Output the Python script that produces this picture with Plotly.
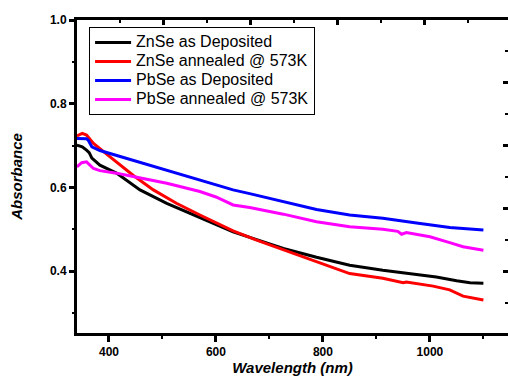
import plotly.graph_objects as go

# ---- data ----
zn_dep_wl = [340, 350, 358, 363, 368, 383, 414, 458, 508, 570, 632, 669, 726, 788, 850, 912, 975, 1012, 1050, 1075, 1100]
zn_dep_abs = [0.701, 0.697, 0.689, 0.683, 0.670, 0.653, 0.634, 0.594, 0.562, 0.528, 0.494, 0.478, 0.454, 0.433, 0.414, 0.402, 0.393, 0.386, 0.377, 0.372, 0.371]

zn_ann_wl = [340, 350, 358, 371, 402, 445, 483, 526, 570, 600, 632, 676, 781, 850, 912, 945, 950, 956, 1006, 1037, 1062, 1100]
zn_ann_abs = [0.723, 0.729, 0.725, 0.705, 0.673, 0.629, 0.594, 0.562, 0.534, 0.515, 0.496, 0.474, 0.426, 0.394, 0.383, 0.375, 0.372, 0.374, 0.364, 0.355, 0.340, 0.331]

pb_dep_wl = [340, 358, 361, 368, 383, 445, 508, 570, 632, 663, 726, 788, 850, 912, 975, 1037, 1100]
pb_dep_abs = [0.717, 0.716, 0.713, 0.697, 0.688, 0.665, 0.641, 0.618, 0.594, 0.585, 0.566, 0.547, 0.534, 0.526, 0.515, 0.504, 0.498]

pb_ann_wl = [340, 349, 358, 363, 371, 383, 414, 445, 508, 570, 600, 632, 663, 726, 788, 850, 912, 940, 947, 956, 1000, 1037, 1062, 1100]
pb_ann_abs = [0.649, 0.659, 0.661, 0.655, 0.645, 0.640, 0.634, 0.626, 0.610, 0.590, 0.577, 0.558, 0.552, 0.536, 0.518, 0.506, 0.500, 0.495, 0.488, 0.492, 0.482, 0.468, 0.458, 0.450]

series_names = ["ZnSe as Deposited", "ZnSe annealed @ 573K", "PbSe as Deposited", "PbSe annealed @ 573K"]
series_colors = ["#000000", "#ff0000", "#0000ff", "#ff00ff"]
series_x = [zn_dep_wl, zn_ann_wl, pb_dep_wl, pb_ann_wl]
series_y = [zn_dep_abs, zn_ann_abs, pb_dep_abs, pb_ann_abs]

x_ticks = [400, 600, 800, 1000]
y_ticks = [0.4, 0.6, 0.8, 1.0]

FONT = "Liberation Sans, Arial, sans-serif"

fig = go.Figure()
for name, col, xs, ys in zip(series_names, series_colors, series_x, series_y):
    fig.add_trace(go.Scatter(x=xs, y=ys, mode="lines",
                             name='<span style="font-size:16px">' + name + '</span>',
                             line=dict(color=col, width=3)))

# empty trace so the secondary (decorative) top/right axes get drawn
fig.add_trace(go.Scatter(x=[], y=[], xaxis="x2", yaxis="y2", showlegend=False, hoverinfo="skip"))

fig.update_layout(
    width=508, height=379,
    margin=dict(l=77, r=0, t=20, b=46),
    paper_bgcolor="white", plot_bgcolor="white",
    font=dict(family=FONT, color="black"),
    showlegend=True,
    legend=dict(x=0.028, y=0.978, xanchor="left", yanchor="top",
                bordercolor="black", borderwidth=1, bgcolor="white",
                font=dict(size=12, family=FONT), itemwidth=36,
                tracegroupgap=0),
    xaxis=dict(range=[340.2, 1146], showline=True, linewidth=3, linecolor="black",
               mirror=False, showgrid=False, zeroline=False,
               ticks="outside", ticklen=6, tickwidth=2.5, tickcolor="black",
               tickvals=x_ticks,
               minor=dict(dtick=100, tick0=0, ticks="outside", ticklen=3, tickwidth=2, tickcolor="black", showgrid=False),
               tickfont=dict(size=12, weight="bold"),
               title=dict(text="Wavelength (nm)", standoff=4,
                          font=dict(size=15, weight="bold", style="italic"))),
    yaxis=dict(range=[0.252, 1.0], showline=True, linewidth=3, linecolor="black",
               mirror=False, showgrid=False, zeroline=False,
               ticks="outside", ticklen=5, tickwidth=2.5, tickcolor="black",
               tickvals=y_ticks, tickformat=".1f",
               minor=dict(dtick=0.1, tick0=0, ticks="outside", ticklen=2, tickwidth=2, tickcolor="black", showgrid=False),
               tickfont=dict(size=12, weight="bold"),
               title=dict(text="Absorbance", standoff=24,
                          font=dict(size=15, weight="bold", style="italic"))),
    xaxis2=dict(overlaying="x", side="top", anchor="y", range=[0, 9.93],
                showline=True, linewidth=3, linecolor="black", showgrid=False, zeroline=False,
                ticks="inside", ticklen=5, tickwidth=2.5, tickcolor="black",
                tickvals=[2, 4, 6, 8], showticklabels=False,
                minor=dict(tickvals=[1, 3, 5, 7, 9], ticks="inside", ticklen=3, tickwidth=2, tickcolor="black", showgrid=False)),
    yaxis2=dict(overlaying="y", side="right", anchor="x", range=[0.05, 9.98],
                showline=False, showgrid=False, zeroline=False,
                ticks="inside", ticklen=5, tickwidth=2.5, tickcolor="black",
                tickvals=[2, 4, 6, 8], showticklabels=False,
                minor=dict(tickvals=[1, 3, 5, 7, 9], ticks="inside", ticklen=3, tickwidth=2, tickcolor="black", showgrid=False)),
)

fig.write_html("out.html")
